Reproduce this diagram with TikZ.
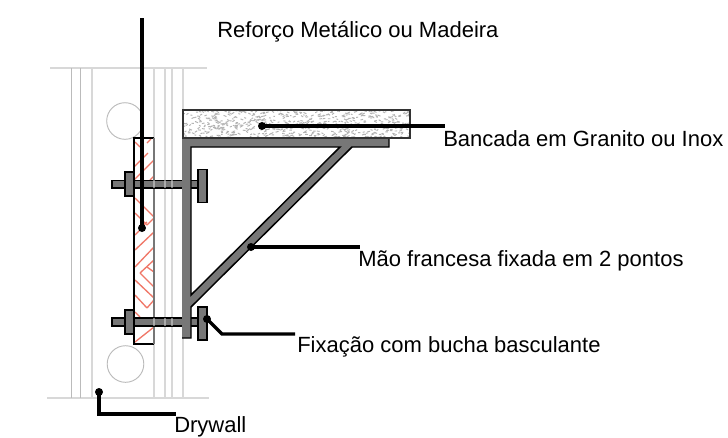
\documentclass[tikz,border=0pt]{standalone}
\usepackage{fontspec}
\setmainfont{Liberation Sans}
\definecolor{gs}{HTML}{777777}
\definecolor{wl}{HTML}{D8D8D8}
\definecolor{wd}{HTML}{BBBBBB}
\definecolor{hat}{HTML}{F07868}
\tikzset{
 lead/.style={draw=black,line width=2.4pt,line join=miter},
 steel/.style={draw=black,fill=gs,line width=1.1pt},
 wall/.style={draw=wl,line width=1pt},
 hatchline/.style={draw=hat,line width=1pt},
 label/.style={inner sep=0pt,anchor=base west,font=\fontsize{16.5pt}{18pt}\selectfont},
 dotend/.style={circle,fill=black,inner sep=0pt,minimum size=6pt}
}
\begin{document}
\begin{tikzpicture}[x=0.75pt,y=-0.75pt]
\useasboundingbox (0,0) rectangle (728,437);
\fill[white] (0,0) rectangle (728,437);
% wall
\draw[wall] (50,68) -- (207,68);
\draw[wall] (47,398) -- (209,398);
\foreach \x/\c in {71.5/wd,80.5/wd,92/wl,154/wl,165/wl,172/wl,183/wl}
  \draw[draw=\c,line width=1pt] (\x,68) -- (\x,398);
\draw[draw=wd,line width=0.7pt] (125,121) circle (18.3);
\draw[draw=wd,line width=0.7pt] (125.5,364) circle (18.3);
% panel
\fill[white] (134,138) rectangle (154,344);
\foreach \a/\b/\c/\d in {135/142/140/147,147/143/151/139,134/167/148/153,134/180/154/160,150/180/154/176,
  135/198/154/217,135/213/147/225,147/225/154/218,140/228/147/222,135/235/140/230,
  135/250/154/232,135/267/154/247,140/273/154/260,147/267/154/272,140/273/154/287,
  135/280/154/298,135/295/147/308,147/308/154/300,135/312/140/317,135/342/154/327}
  \draw[hatchline] (\a,\b) -- (\c,\d);
\draw[black,line width=1.1pt] (154,138) -- (134,138) -- (134,344) -- (154,344);
\draw[gs,line width=1.1pt] (154,138) -- (154,344);
% bolts
\draw[steel] (112,180.5) rectangle (198,188);
\draw[steel] (125,172) rectangle (134,196);
\draw[steel] (198,169.5) rectangle (207,202.5);
\draw[steel] (112,318) rectangle (198,326);
\draw[steel] (125,310) rectangle (134,334);
\draw[steel] (198,307) rectangle (207,340);
% wall lines over shafts
\foreach \x in {154,165,172}
  \draw[draw=wl,opacity=.55,line width=1pt] (\x,180) -- (\x,188) (\x,318) -- (\x,326);
% bracket
\fill[gs,even odd rule] (182,139) -- (389,139) -- (389,147) -- (352,147) -- (191,307) -- (191,338) -- (182,338) -- cycle
  (191,147) -- (340,147) -- (191,295) -- cycle;
\draw[black,line width=1.1pt,line join=miter] (182,338) -- (191,338) -- (191,307) -- (352,147) -- (389,147) -- (389,139);
\draw[black,line width=1.1pt,line join=miter] (191,295) -- (191,147) -- (340,147) -- cycle;
% counter
\fill[white] (183,110) rectangle (410,138);
\begin{scope}
\clip (183,110) rectangle (410,138);
\pgfmathsetseed{7}
\foreach \i in {1,...,620}
  \draw[gray!60,line width=0.7pt] (183+227*rnd,110+28*rnd) -- ++(1.5+1.5*rnd,1.5-3*rnd);
\end{scope}
\draw[black!80,line width=1.2pt] (183,110) rectangle (410,138);
% leaders
\coordinate (a0) at (142,18);
\node[dotend] (a1) at (142,228) {};
\draw[lead] (a0) -- (a1.center);
\node[dotend] (b1) at (262,126) {};
\coordinate (b0) at (445,126);
\draw[lead] (b1.center) -- (b0);
\node[dotend] (c1) at (251,247) {};
\coordinate (c0) at (360,247);
\draw[lead] (c1.center) -- (c0);
\node[dotend] (d1) at (207,319) {};
\coordinate (d0) at (295,334);
\draw[lead] (d1.center) -- (222,334) -- (d0);
\node[dotend] (e1) at (99,392) {};
\coordinate (e0) at (176,414);
\draw[lead] (e1.center) -- (99,414) -- (e0);
% labels
\node[label] (t1) at (217,37) {Reforço Metálico ou Madeira};
\node[label] (t2) at (443,146) {Bancada em Granito ou Inox};
\node[label] (t3) at (358,266) {Mão francesa fixada em 2 pontos};
\node[label] (t4) at (297,352) {Fixação com bucha basculante};
\node[label] (t5) at (174,432.4) {Drywall};
\end{tikzpicture}
\end{document}
